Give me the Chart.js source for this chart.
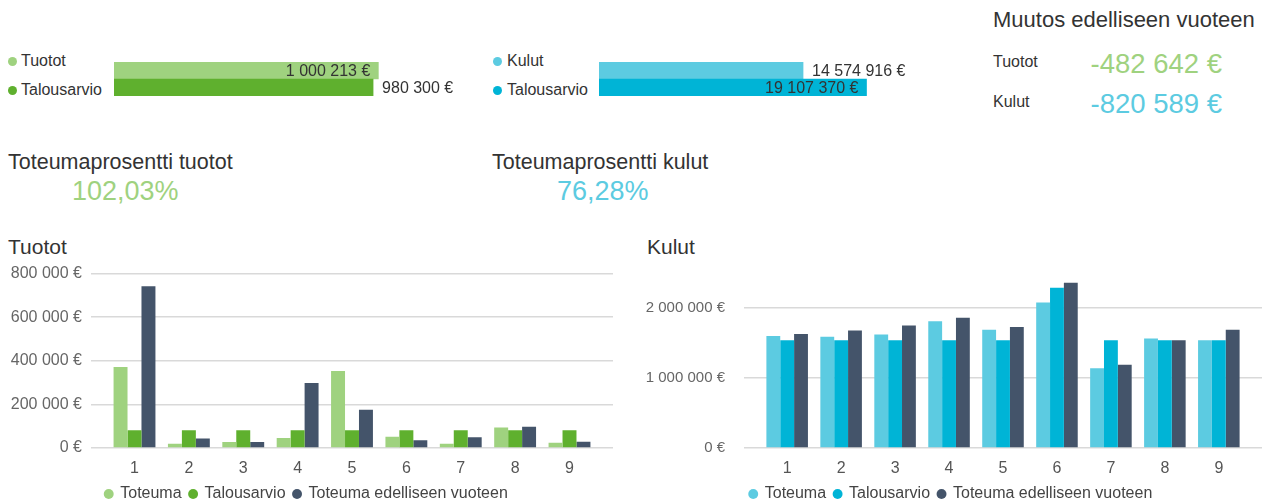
<!DOCTYPE html>
<html lang="fi">
<head>
<meta charset="utf-8">
<title>Tuotot ja kulut</title>
<script src="https://cdn.jsdelivr.net/npm/chart.js@4.4.1/dist/chart.umd.min.js"></script>
<style>
  body { margin: 0; width: 1264px; height: 502px; overflow: hidden; background: #fff;
         font-family: "Liberation Sans", Arial, sans-serif; color: #333; }
  .t { position: absolute; line-height: 1; white-space: nowrap; }
  .dot { position: absolute; width: 9px; height: 9px; border-radius: 50%; }
  canvas { position: absolute; }
</style>
</head>
<body>

<!-- top: totals -->
<span class="dot" style="left:8px;top:57px;background:#9fd27f"></span>
<span class="t" style="left:21px;top:53px;font-size:16px">Tuotot</span>
<span class="dot" style="left:8px;top:86px;background:#5fb02e"></span>
<span class="t" style="left:21px;top:82px;font-size:16px">Talousarvio</span>
<canvas id="tuototTotal" width="370" height="34" style="left:114px;top:62px"></canvas>

<span class="dot" style="left:493px;top:57px;background:#5ccbe1"></span>
<span class="t" style="left:507px;top:53px;font-size:16px">Kulut</span>
<span class="dot" style="left:493px;top:86px;background:#00b4d6"></span>
<span class="t" style="left:507px;top:82px;font-size:16px">Talousarvio</span>
<canvas id="kulutTotal" width="364" height="34" style="left:599px;top:62px"></canvas>

<!-- change vs previous year -->
<span class="t" style="left:993px;top:9px;font-size:22px">Muutos edelliseen vuoteen</span>
<span class="t" style="left:993px;top:54px;font-size:16px">Tuotot</span>
<span class="t" id="muutosTuotot" style="right:42px;top:50px;font-size:27.5px;color:#9fd27f"></span>
<span class="t" style="left:993px;top:94px;font-size:16px">Kulut</span>
<span class="t" id="muutosKulut" style="right:42px;top:90px;font-size:27.5px;color:#5ccbe1"></span>

<!-- percentages -->
<span class="t" style="left:8px;top:152px;font-size:21.5px">Toteumaprosentti tuotot</span>
<span class="t" id="pctTuotot" style="left:72px;top:178px;font-size:27px;color:#9fd27f"></span>
<span class="t" style="left:492px;top:152px;font-size:21.5px">Toteumaprosentti kulut</span>
<span class="t" id="pctKulut" style="left:557px;top:178px;font-size:27px;color:#5ccbe1"></span>

<!-- monthly charts -->
<span class="t" style="left:8px;top:236px;font-size:21px">Tuotot</span>
<span class="t" style="left:647px;top:236px;font-size:21px">Kulut</span>
<canvas id="tuototChart" width="620" height="257" style="left:0;top:255px"></canvas>
<canvas id="kulutChart" width="624" height="267" style="left:640px;top:245px"></canvas>

<script>
// Data
const months = ['1', '2', '3', '4', '5', '6', '7', '8', '9'];
const seriesNames = ['Toteuma', 'Talousarvio', 'Toteuma edelliseen vuoteen'];

const tuototToteuma   = [371000, 20000, 27000, 46000, 353000, 52000, 20000, 94000, 24000];
const tuototBudjetti  = [81700, 81700, 81700, 81700, 81700, 81700, 81700, 81700, 81700];
const tuototEdellinen = [742000, 44000, 27000, 298000, 176000, 35000, 49000, 97000, 29000];

const kulutToteuma   = [1600000, 1590000, 1620000, 1810000, 1690000, 2080000, 1140000, 1565000, 1540000];
const kulutBudjetti  = [1540000, 1540000, 1540000, 1540000, 1540000, 2290000, 1540000, 1540000, 1540000];
const kulutEdellinen = [1630000, 1680000, 1750000, 1860000, 1730000, 2360000, 1190000, 1540000, 1690000];

const tuototTicks = [0, 200000, 400000, 600000, 800000];
const kulutTicks = [0, 1000000, 2000000];

const totalLabels = ['Tuotot', 'Talousarvio'];
const tuototTotals = [1000213, 980300];
const kulutLabels = ['Kulut', 'Talousarvio'];
const kulutTotals = [14574916, 19107370];
const muutos = [-482642, -820589];

const GREEN_L = '#9fd27f', GREEN = '#5fb02e', BLUE_L = '#5ccbe1', BLUE = '#00b4d6', DARK = '#44546a';
const FONT = '"Liberation Sans", Arial, sans-serif';

function eur(v) {
	const s = Math.abs(v).toString().replace(/\B(?=(\d{3})+(?!\d))/g, ' ');
	return (v < 0 ? '-' : '') + s + ' €';
}
function pct(a, b) {
	return (a / b * 100).toFixed(2).replace('.', ',') + '%';
}

document.getElementById('muutosTuotot').textContent = eur(muutos[0]);
document.getElementById('muutosKulut').textContent = eur(muutos[1]);
document.getElementById('pctTuotot').textContent = pct(tuototTotals[0], tuototTotals[1]);
document.getElementById('pctKulut').textContent = pct(kulutTotals[0], kulutTotals[1]);

/***************************************
        Totals (horizontal bars)
***************************************/

// value at bar end: longest bar inside, others outside
const barValues = {
	id: 'barValues',
	afterDatasetsDraw(chart) {
		const ctx = chart.ctx;
		const values = chart.data.datasets[0].data;
		const longest = Math.max(...values);
		ctx.save();
		ctx.font = '16px ' + FONT;
		ctx.fillStyle = '#333';
		ctx.textBaseline = 'middle';
		chart.getDatasetMeta(0).data.forEach((bar, i) => {
			if (values[i] === longest) {
				ctx.textAlign = 'right';
				ctx.fillText(eur(values[i]), bar.x - 8, bar.y + 1);
			} else {
				ctx.textAlign = 'left';
				ctx.fillText(eur(values[i]), bar.x + 9, bar.y + 1);
			}
		});
		ctx.restore();
	}
};

function totalChart(id, labels, values, colors, max) {
	new Chart(document.getElementById(id), {
		type: 'bar',
		data: {
			labels: labels,
			datasets: [{ data: values, backgroundColor: colors, borderWidth: 0,
				barPercentage: 1, categoryPercentage: 1 }]
		},
		options: {
			indexAxis: 'y',
			responsive: false,
			animation: false,
			devicePixelRatio: 1,
			layout: { padding: 0 },
			plugins: { legend: { display: false }, tooltip: { enabled: false } },
			scales: {
				x: { display: false, min: 0, max: max },
				y: { display: false }
			}
		},
		plugins: [barValues]
	});
}

totalChart('tuototTotal', totalLabels, tuototTotals, [GREEN_L, GREEN], 1400000);
totalChart('kulutTotal', kulutLabels, kulutTotals, [BLUE_L, BLUE], 26000000);

/***************************************
          Monthly grouped bars
***************************************/

function monthChart(id, series, colors, yTicks, yMax, o) {
	new Chart(document.getElementById(id), {
		type: 'bar',
		data: {
			datasets: series.map((vals, s) => ({
				label: seriesNames[s],
				data: vals.map((v, i) => ({ x: i + 1, y: v })),
				backgroundColor: colors[s],
				borderWidth: 0,
				barPercentage: 1,
				categoryPercentage: 0.77
			}))
		},
		options: {
			responsive: false,
			animation: false,
			devicePixelRatio: 1,
			layout: { padding: { top: 0, right: o.padRight, bottom: 0, left: 0 } },
			plugins: {
				tooltip: { enabled: false },
				legend: {
					position: 'bottom',
					labels: {
						usePointStyle: true,
						pointStyle: 'circle',
						boxWidth: 7,
						boxHeight: 7,
						padding: 8,
						color: '#444',
						font: { family: FONT, size: 16 }
					}
				}
			},
			scales: {
				x: {
					type: 'linear',
					offset: false,
					min: 0.2,
					max: 9.8,
					afterBuildTicks: scale => { scale.ticks = months.map((m, i) => ({ value: i + 1 })); },
					afterFit: scale => { scale.height = 30; },
					grid: { display: false, drawTicks: false, offset: false },
					border: { display: false },
					ticks: {
						autoSkip: false,
						maxRotation: 0,
						padding: 11,
						color: '#555',
						font: { family: FONT, size: 16 },
						callback: v => months[v - 1]
					}
				},
				y: {
					min: 0,
					max: yMax,
					afterBuildTicks: scale => { scale.ticks = yTicks.map(v => ({ value: v })); },
					afterFit: scale => { scale.width = o.yWidth; },
					grid: { color: '#d9d9d9', lineWidth: 1.5, drawTicks: false },
					border: { display: false },
					ticks: {
						padding: o.tickPad,
						color: '#666',
						font: { family: FONT, size: o.tickSize },
						callback: v => eur(v)
					}
				}
			}
		}
	});
}

monthChart('tuototChart', [tuototToteuma, tuototBudjetti, tuototEdellinen], [GREEN_L, GREEN, DARK],
	tuototTicks, 800000, { yWidth: 91, tickPad: 9, tickSize: 16, padRight: 7 });
monthChart('kulutChart', [kulutToteuma, kulutBudjetti, kulutEdellinen], [BLUE_L, BLUE, DARK],
	kulutTicks, 2500000, { yWidth: 104, tickPad: 19, tickSize: 15, padRight: 2 });
</script>
</body>
</html>
